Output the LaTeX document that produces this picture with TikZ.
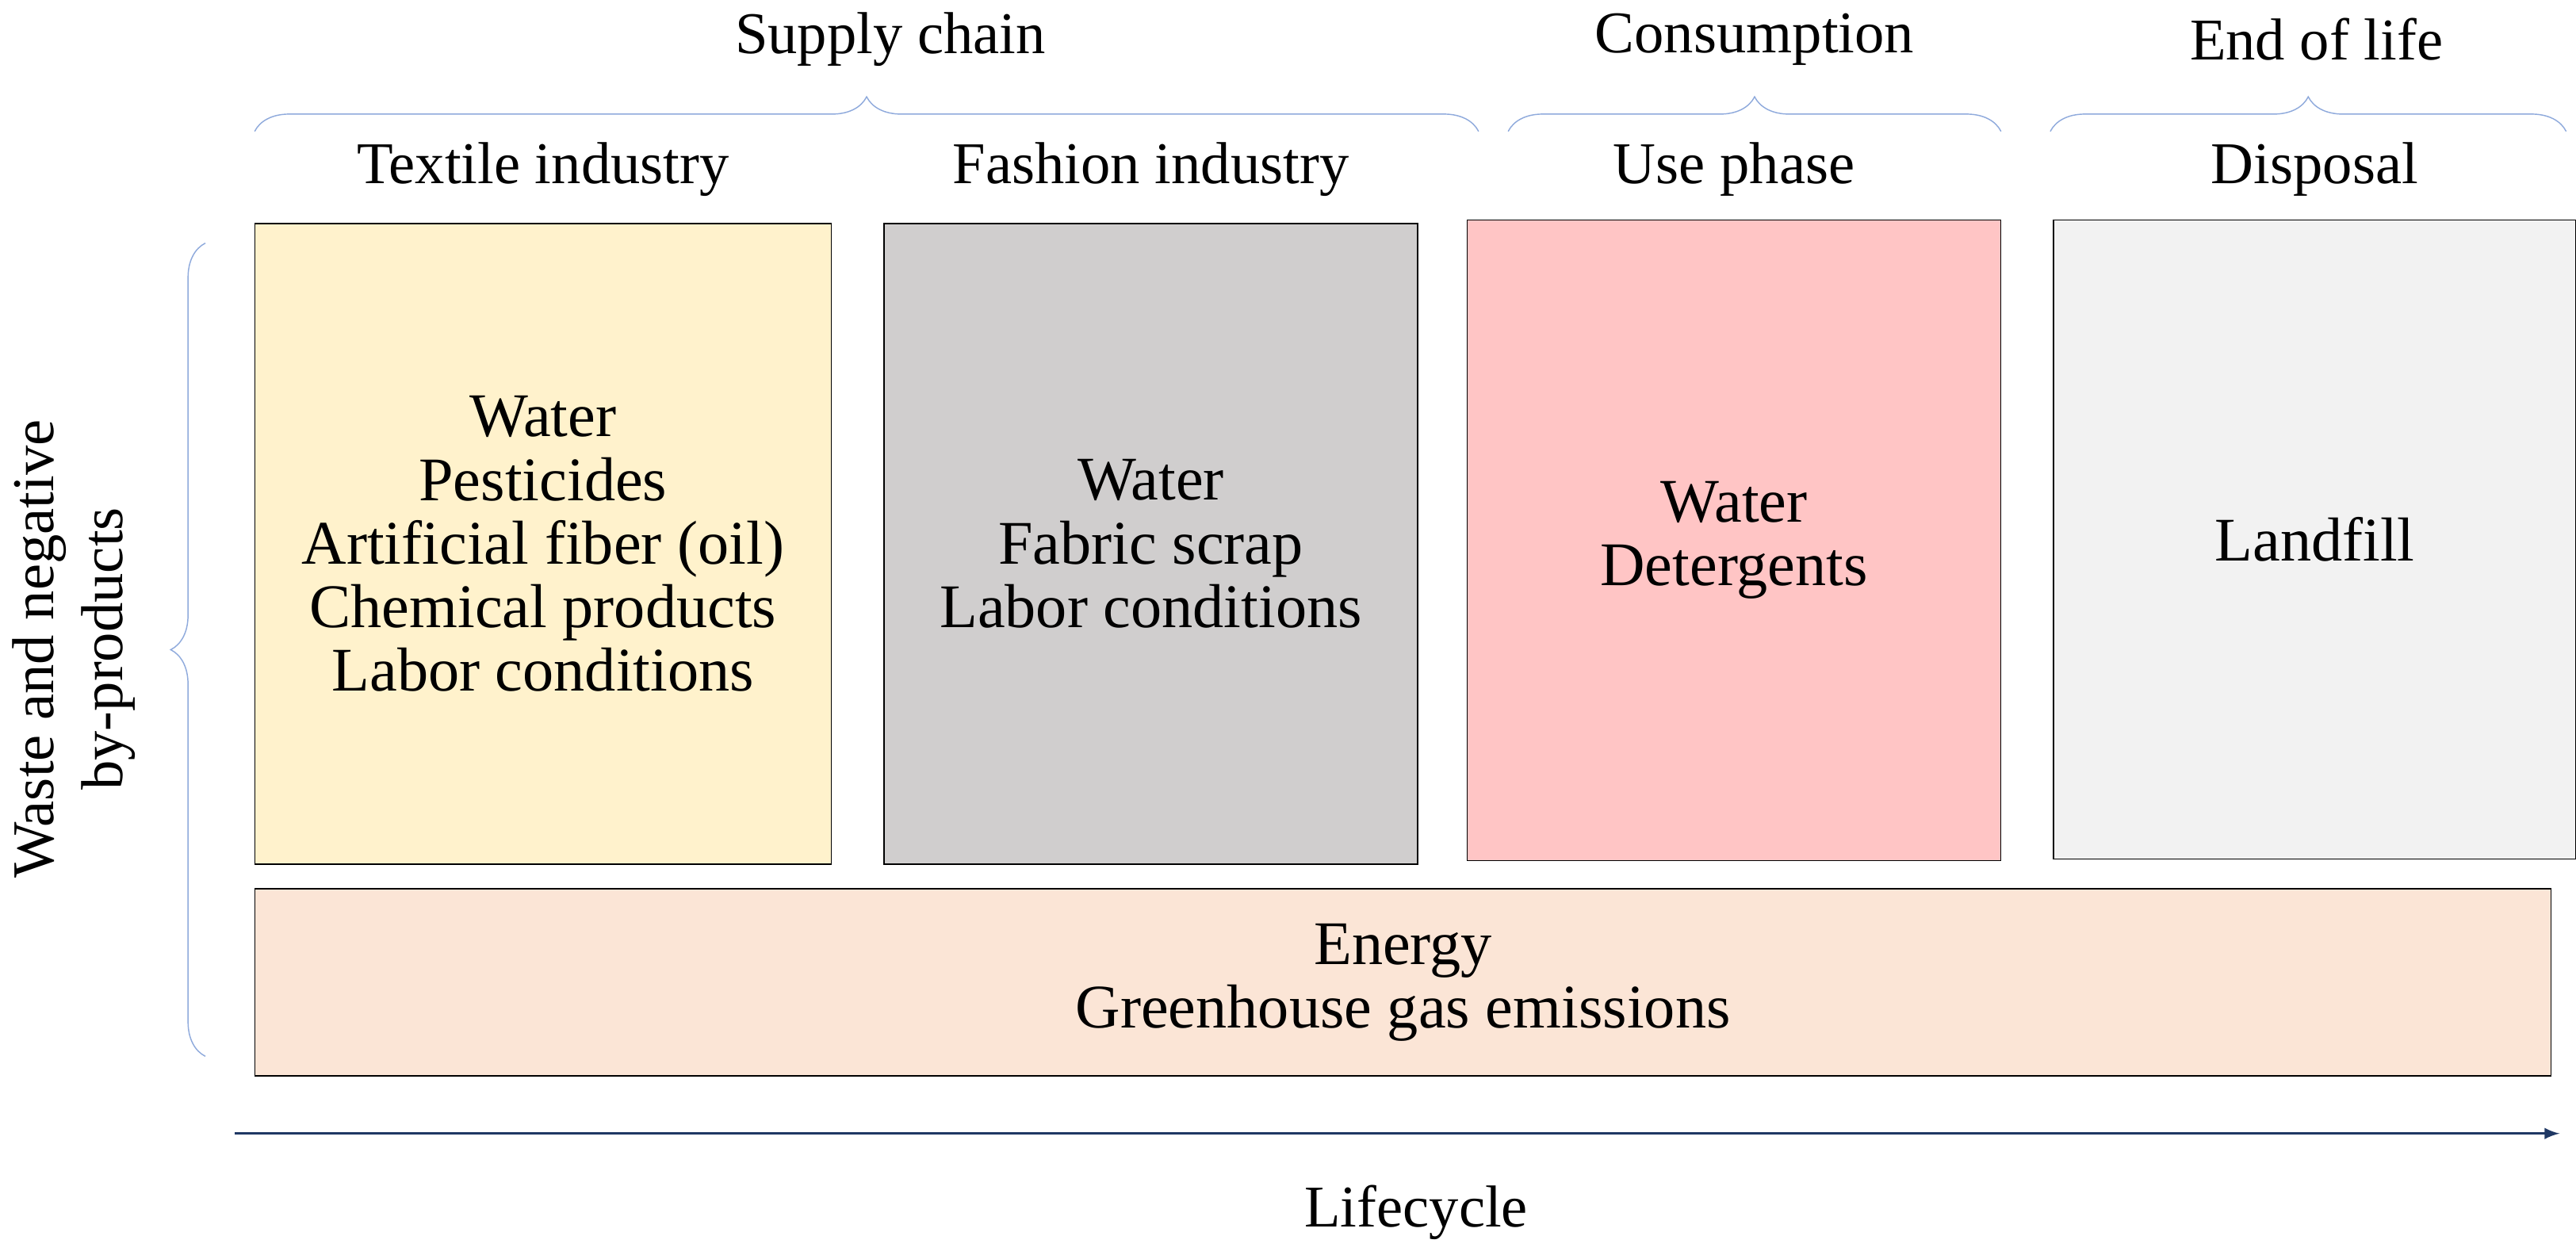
\documentclass[tikz,border=0pt]{standalone}
\usepackage{fontspec}
\setmainfont{Liberation Serif}
\usetikzlibrary{decorations.pathreplacing}
\definecolor{textilefill}{HTML}{FFF2CC}
\definecolor{fashionfill}{HTML}{D0CECE}
\definecolor{usefill}{HTML}{FFC5C5}
\definecolor{disposalfill}{HTML}{F2F2F2}
\definecolor{energyfill}{HTML}{FBE5D6}
\definecolor{bracecol}{HTML}{8FAADC}
\definecolor{arrowcol}{HTML}{1F3864}
\tikzset{
  stage/.style={draw=black, thin, align=center, inner sep=0pt,
    font=\fontsize{21.5}{22}\selectfont},
  title/.style={font=\fontsize{20.5}{24}\selectfont},
  curly/.style={draw=bracecol, thin, decorate, decoration={brace, amplitude=12pt}}
}
\begin{document}
\begin{tikzpicture}[x=0.02cm, y=-0.02cm]
    \useasboundingbox (0, 0) rectangle (1568, 766);

    % stage boxes
    \node[stage, fill=textilefill, minimum width=7.02cm, minimum height=7.8cm] (textile) at (330.5, 331) {Water\\Pesticides\\Artificial fiber (oil)\\Chemical products\\Labor conditions};
    \node[stage, fill=fashionfill, minimum width=6.5cm, minimum height=7.8cm] (fashion) at (700.5, 331) {Water\\Fabric scrap\\Labor conditions};
    \node[stage, fill=usefill, minimum width=6.5cm, minimum height=7.8cm] (use) at (1055.5, 329) {Water\\Detergents};
    \node[stage, fill=disposalfill, minimum width=6.36cm, minimum height=7.78cm] (disposal) at (1409, 328.5) {Landfill};
    \node[stage, fill=energyfill, minimum width=27.96cm, minimum height=2.28cm] (energy) at (854, 598) {Energy\\Greenhouse gas emissions};

    % column titles
    \node[title] (ttextile) at (330.5, 103) {Textile industry};
    \node[title] (tfashion) at (700.5, 103) {Fashion industry};
    \node[title] (tuse) at (1055.5, 103) {Use phase};
    \node[title] (tdisposal) at (1409, 103) {Disposal};

    % phase braces
    \coordinate (sc1) at (155, 80);
    \coordinate (sc2) at (900, 80);
    \coordinate (co1) at (918, 80);
    \coordinate (co2) at (1218, 80);
    \coordinate (el1) at (1248, 80);
    \coordinate (el2) at (1562, 80);
    \draw[curly] (sc1) -- (sc2);
    \draw[curly] (co1) -- (co2);
    \draw[curly] (el1) -- (el2);
    \node[title] (supply) at (542, 24) {Supply chain};
    \node[title] (consumption) at (1068, 24) {Consumption};
    \node[title] (endlife) at (1410, 24) {End of life};

    % side brace
    \coordinate (wb1) at (125, 643);
    \coordinate (wb2) at (125, 148);
    \draw[curly] (wb1) -- (wb2);
    \node[title, rotate=90, align=center] (waste) at (45, 395) {Waste and negative\\by-products};

    % lifecycle arrow
    \coordinate (life1) at (143, 690);
    \coordinate (life2) at (1558, 690);
    \draw[arrowcol, thick, -latex] (life1) -- (life2);
    \node[title] (lifecycle) at (862, 738) {Lifecycle};
\end{tikzpicture}
\end{document}
